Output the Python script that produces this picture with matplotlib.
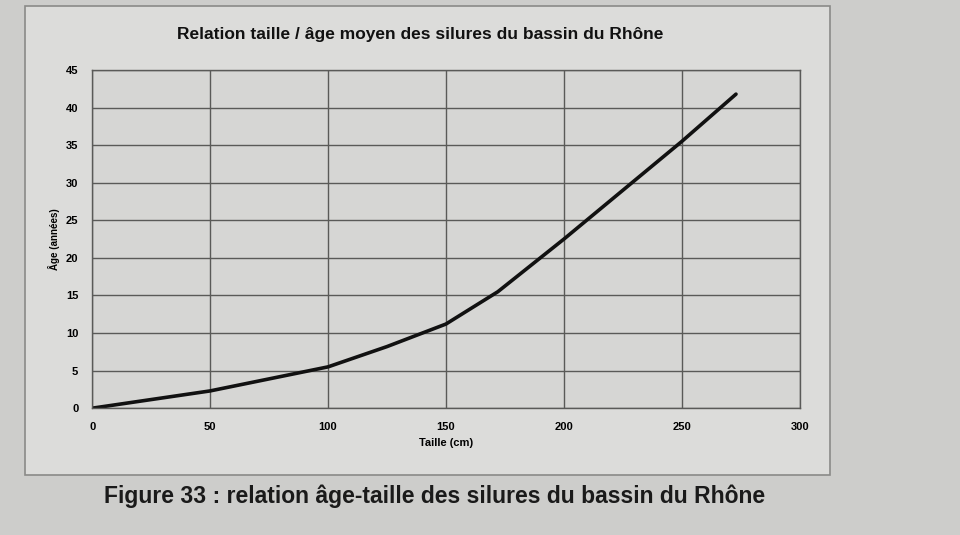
import matplotlib.pyplot as plt
from matplotlib.patches import Rectangle

# Taille (cm) et âge moyen (années)
taille = [0, 50, 100, 125, 150, 172, 200, 250, 273]
age = [0, 2.3, 5.5, 8.2, 11.2, 15.5, 22.5, 35.5, 41.8]

x_ticks = [0, 50, 100, 150, 200, 250, 300]
y_ticks = [0, 5, 10, 15, 20, 25, 30, 35, 40, 45]

plt.rcParams['font.family'] = ['Liberation Sans', 'DejaVu Sans']

fig = plt.figure(figsize=(9.6, 5.35), dpi=100)
fig.patch.set_facecolor('#cdcdcb')

# cadre du graphique (zone claire du document)
fig.add_artist(Rectangle((0.026, 0.112), 0.839, 0.876, transform=fig.transFigure,
                         facecolor='#dcdcda', edgecolor='#8a8a88', linewidth=1.2, zorder=0))

ax = fig.add_axes([0.096, 0.237, 0.737, 0.632])
ax.set_facecolor('#d6d6d4')
ax.plot(taille, age, color='#111111', linewidth=2.6, solid_capstyle='round')

ax.set_xlim(0, 300)
ax.set_ylim(0, 45)
ax.set_xticks(x_ticks)
ax.set_yticks(y_ticks)
ax.tick_params(length=0, labelsize=8, pad=10)
for lab in ax.get_xticklabels() + ax.get_yticklabels():
    lab.set_fontweight('bold')
ax.grid(True, color='#5a5a58', linewidth=1.0)
for s in ax.spines.values():
    s.set_color('#5a5a58')
    s.set_linewidth(1.0)

ax.set_xlabel('Taille (cm)', fontsize=8, fontweight='bold', labelpad=4)
ax.set_ylabel('Âge (années)', fontsize=7, fontweight='bold', labelpad=4)

fig.text(0.438, 0.935, 'Relation taille / âge moyen des silures du bassin du Rhône',
         ha='center', va='center', fontsize=12.5, fontweight='bold', color='#111111')

fig.text(0.453, 0.073, 'Figure 33 : relation âge-taille des silures du bassin du Rhône',
         ha='center', va='center', fontsize=16.5, fontweight='bold', color='#1a1a1a')

fig.savefig('out.png', dpi=100, facecolor=fig.get_facecolor())
